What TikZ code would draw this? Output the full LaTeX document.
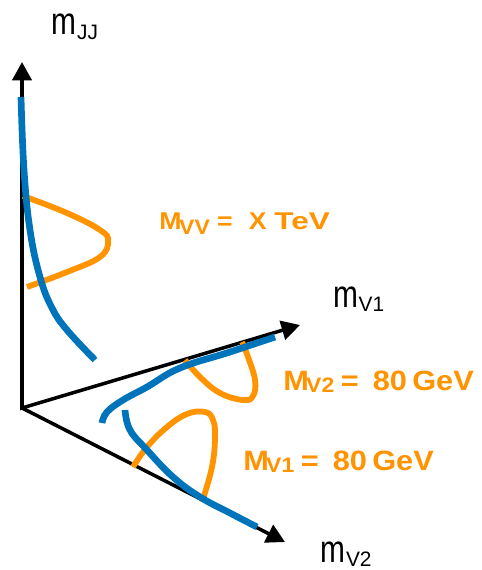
\documentclass[tikz,border=0pt]{standalone}
\usepackage{fontspec}
\setmainfont{Liberation Sans}
\newfontfamily\axfont[FakeStretch=0.78]{Liberation Sans}
\newfontfamily\lblfont[FakeStretch=1.1]{Liberation Sans Bold}
\usetikzlibrary{arrows.meta}
\definecolor{cblue}{RGB}{0,116,186}
\definecolor{corange}{RGB}{255,147,0}
\begin{document}
\begin{tikzpicture}[x=0.02cm,y=-0.02cm,
  axisline/.style={line width=2pt},
  bcurve/.style={cblue,line width=3.8pt},
  ocurve/.style={corange,line width=3.3pt},
  lbl/.style={inner sep=0pt,anchor=base west,text=corange,font=\fontsize{15.9}{18}\lblfont},
  axlbl/.style={inner sep=0pt,anchor=base west}]
\useasboundingbox (0,0) rectangle (482,570);
\coordinate (O) at (22,408);
\coordinate (Y) at (22,62);
\coordinate (A) at (300,325);
\coordinate (B) at (285,542);
% axes
\draw[axisline,{Triangle[length=10.5pt,width=11pt]}-{Triangle[length=10.5pt,width=11pt]}] (Y) -- (O) -- (A);
\draw[axisline,-{Triangle[length=10.5pt,width=11pt]}] (O) -- (B);
% orange curves
\draw[ocurve] plot[smooth,tension=0.7] coordinates {(23,196) (67,213) (100,230) (108,241) (100,257) (67,272) (27,287)};
\draw[ocurve] plot[smooth,tension=0.7] coordinates {(185,360) (200,377) (220,393) (243,400) (253,396) (255,380) (248,357) (242,342)};
\draw[ocurve] plot[smooth,tension=0.7] coordinates {(133,467) (147,447) (167,427) (187,414) (205,412) (213,420) (215,437) (212,467) (202,502)};
% blue curves
\draw[bcurve] plot[smooth,tension=0.7] coordinates {(21,97) (24,170) (30,230) (40,277) (52,308) (67,330) (95,360)};
\draw[bcurve] plot[smooth,tension=0.7] coordinates {(102,423) (107,412) (123,400) (147,387) (180,368) (230,352) (275,337)};
\draw[bcurve] plot[smooth,tension=0.7] coordinates {(125,410) (130,430) (147,450) (173,477) (200,497) (230,513) (257,527)};
% axis labels
\node[axlbl] (mjj) at (51,35) {\makebox[14.7pt][l]{\axfont\fontsize{21.8}{24}\selectfont m}\raisebox{-2.8pt}{\fontsize{11.9}{14}\selectfont JJ}};
\node[axlbl] (mv1) at (333,307) {\makebox[14.4pt][l]{\axfont\fontsize{21.8}{24}\selectfont m}\raisebox{-2.8pt}{\fontsize{11.9}{14}\selectfont V1}};
\node[axlbl] (mv2) at (320,562) {\makebox[14.6pt][l]{\axfont\fontsize{21.8}{24}\selectfont m}\raisebox{-2.8pt}{\fontsize{11.9}{14}\selectfont V2}};
% orange labels
\begin{scope}
\clip (150,190) rectangle (330,250);
\node[lbl,font=\fontsize{13.8}{16}\lblfont] (Mvv) at (159,230) {\makebox[11.3pt][l]{M}\makebox[21.6pt][l]{\raisebox{-2.8pt}{\fontsize{11.9}{14}\selectfont VV}}\makebox[18.1pt][l]{=}\makebox[14.5pt][l]{X}{\addfontfeature{FakeStretch=1.3}TeV}};
\end{scope}
\node[lbl] (Mv2) at (283,390) {\makebox[13pt][l]{M}\makebox[19.8pt][l]{\raisebox{-1.7pt}{\fontsize{11.9}{14}\selectfont V2}}\makebox[18.1pt][l]{=}\makebox[22.5pt][l]{80}GeV};
\node[lbl] (Mv1) at (243,470) {\makebox[13pt][l]{M}\makebox[19.8pt][l]{\raisebox{-1.7pt}{\fontsize{11.9}{14}\selectfont V1}}\makebox[18.1pt][l]{=}\makebox[22.5pt][l]{80}GeV};
\end{tikzpicture}
\end{document}
